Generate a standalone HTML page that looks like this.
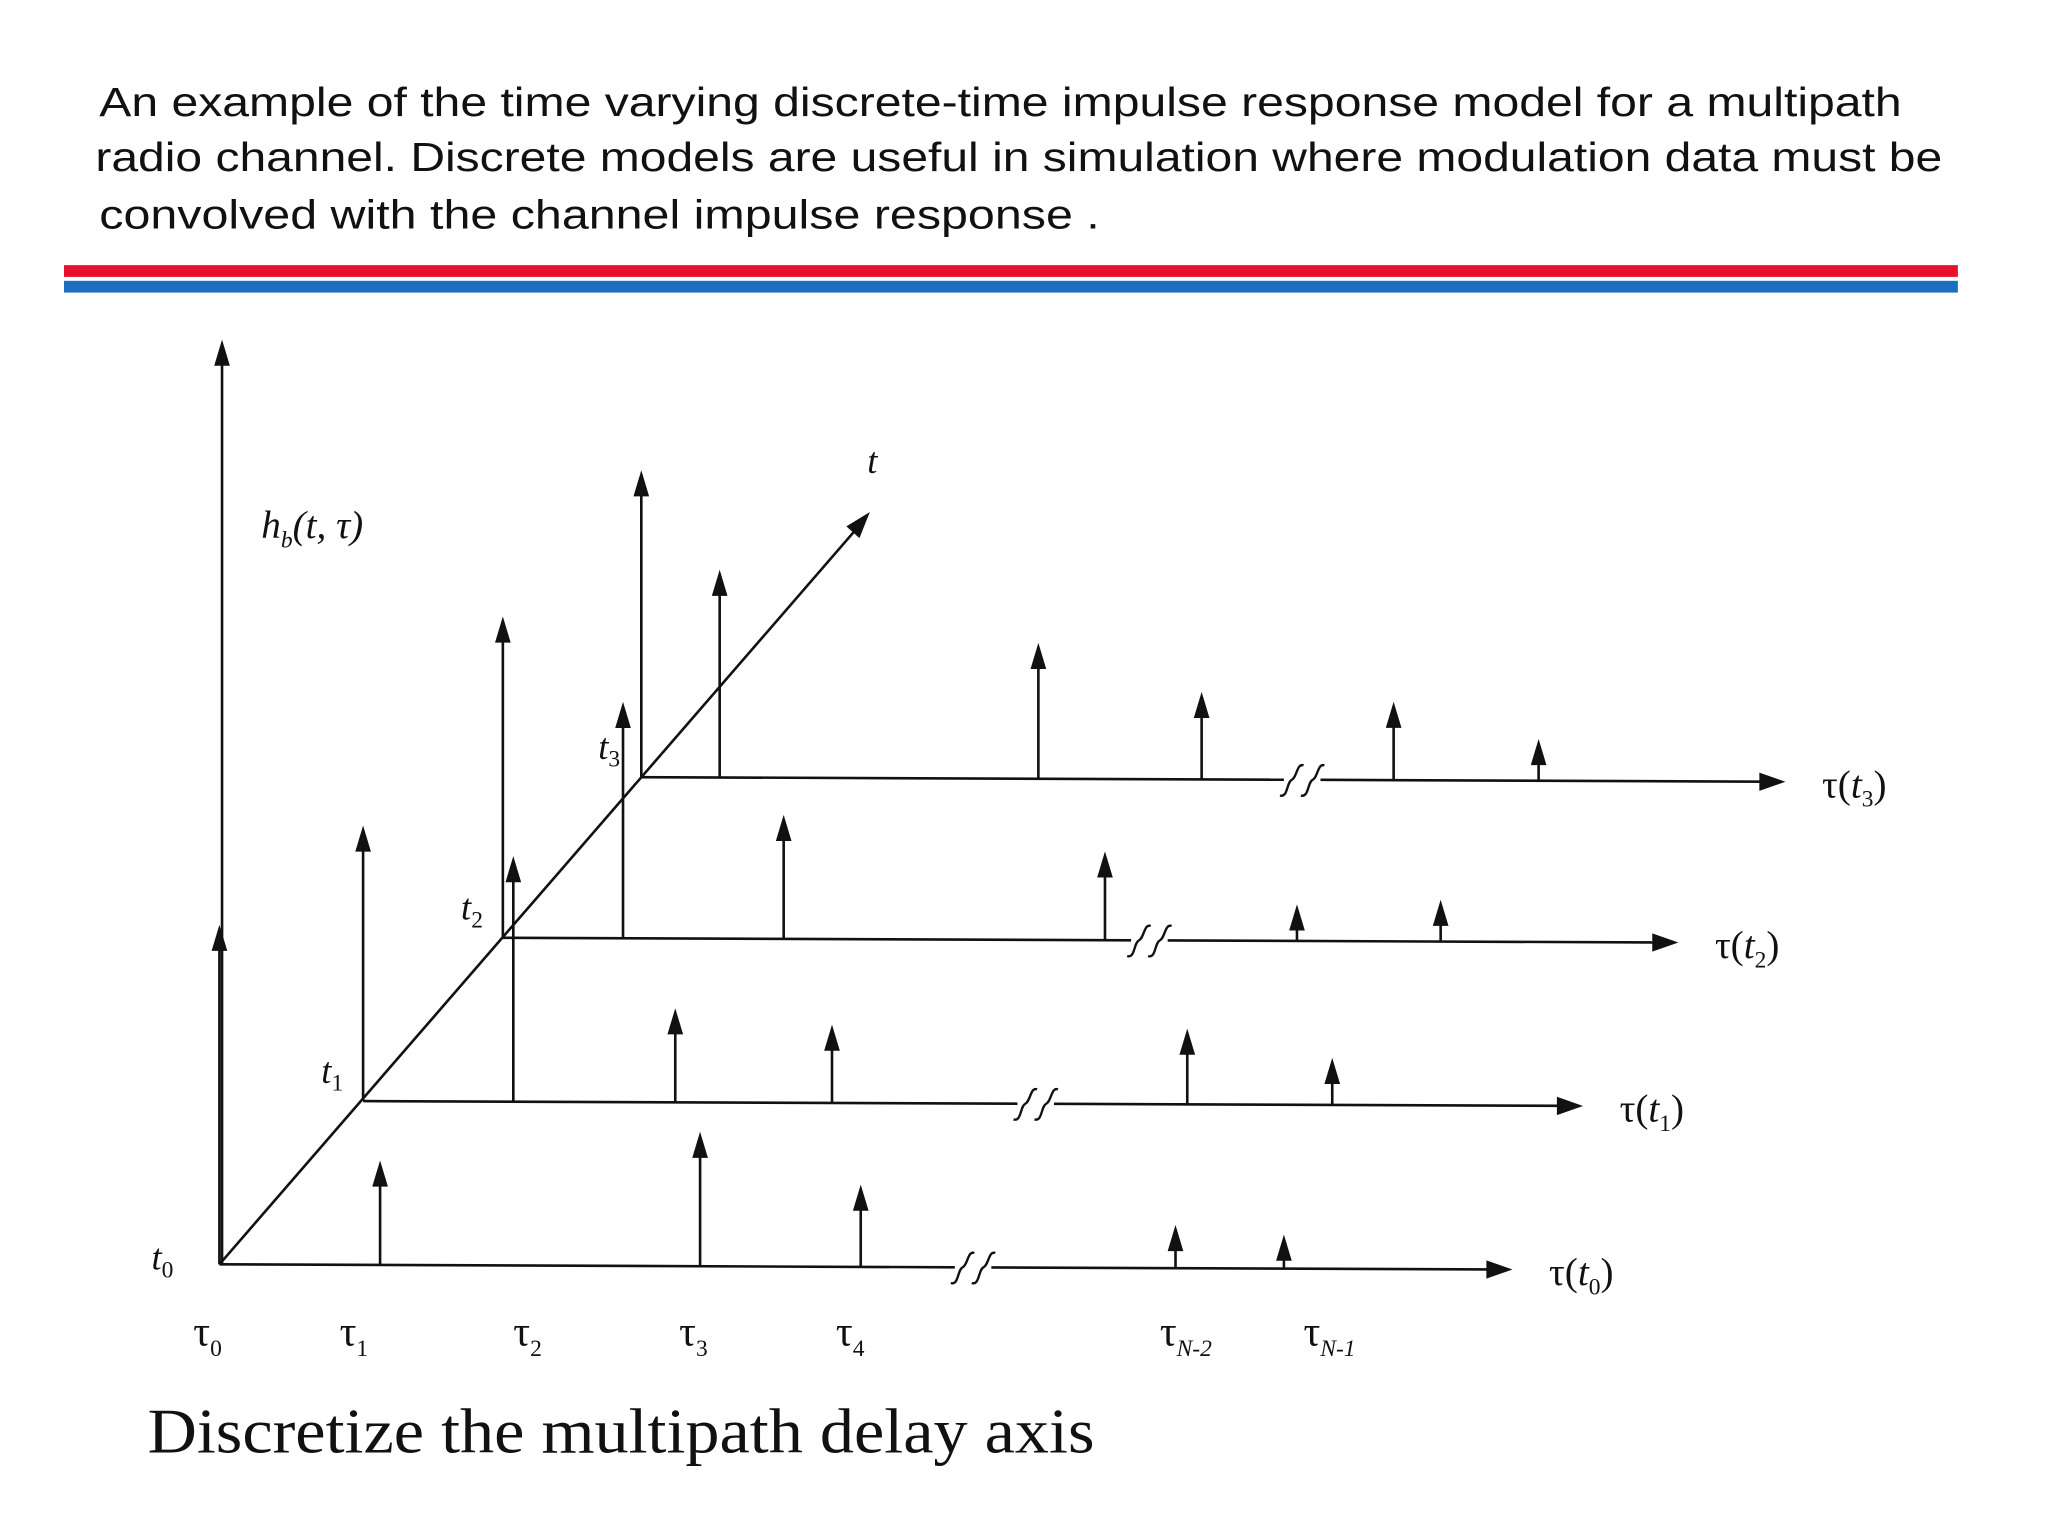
<!DOCTYPE html>
<html><head><meta charset="utf-8"><style>
html,body{margin:0;padding:0;background:#fff;}
svg{display:block;}
.cap{font-family:"Liberation Sans",sans-serif;font-size:31px;fill:#111;}
.lbl{font-family:"Liberation Serif",serif;fill:#111;}
</style></head><body>
<svg id="chart" width="2048" height="1536" viewBox="0 0 1568 1176" preserveAspectRatio="none" xmlns="http://www.w3.org/2000/svg">
<g>
<text class="cap" x="76" y="89" textLength="1380" lengthAdjust="spacingAndGlyphs">An example of the time varying discrete-time impulse response model for a multipath</text>
<text class="cap" x="73" y="131" textLength="1414" lengthAdjust="spacingAndGlyphs">radio channel. Discrete models are useful in simulation where modulation data must be</text>
<text class="cap" x="76" y="175" textLength="766" lengthAdjust="spacingAndGlyphs">convolved with the channel impulse response .</text>
</g>
<rect x="49" y="203" width="1450" height="9" fill="#e8102e"/>
<rect x="49" y="215" width="1450" height="9" fill="#1a6fc0"/>
<g id="plot" stroke="#111" stroke-width="2" fill="none"></g>
<g id="labels"></g>
<text class="lbl" x="113" y="1112" font-size="49" textLength="725" lengthAdjust="spacingAndGlyphs">Discretize the multipath delay axis</text>
</svg>
<script>
// rows t0..t3
const rowNames = ['t0','t1','t2','t3'];
const rowOriginX = [168, 278, 385, 490];
const rowOriginY = [968, 843, 718, 595];
const rowAxisEnd = [1158, 1212, 1285, 1367];
const rowBreakX = [745, 793, 880, 997];
// impulse delays (relative units) and amplitudes per row
const delays = [
  [0, 123, 368, 491, 732, 815],
  [0, 115, 239, 359, 631, 742],
  [0, 92, 215, 461, 608, 718],
  [1, 61, 305, 430, 577, 688]
];
const amps = [
  [260, 80, 103, 63, 33, 26],
  [211, 188, 72, 60, 58, 36],
  [246, 181, 95, 68, 28, 32],
  [235, 159, 104, 67, 60, 32]
];
const tauLabels = ['0','1','2','3','4','N-2','N-1'];
const tauLabelX = [160, 272, 405, 532, 652, 900, 1010];

const NS='http://www.w3.org/2000/svg';
const plot=document.getElementById('plot'), labels=document.getElementById('labels');
function mk(tag,attrs,parent){const e=document.createElementNS(NS,tag);for(const k in attrs)e.setAttribute(k,attrs[k]);parent.appendChild(e);return e;}
const slope=0.004;
function xPos(r,d){return rowOriginX[r]+d;}
function yBase(r,x){return rowOriginY[r]+(x-rowOriginX[r])*slope;}
function yTop(r,x,a){return yBase(r,x)-a;}
function arrowUp(x,y,g){return mk('path',{d:`M${x-6},${y+20} L${x},${y} L${x+6},${y+20} Z`,fill:'#111',stroke:'none'},g);}

let va=mk('g',{},plot);


mk('line',{x1:170,y1:968,x2:170,y2:275},va);
arrowUp(170,260,va);
let ta=mk('g',{},plot);


mk('line',{x1:168,y1:968,x2:660,y2:400},ta);
mk('path',{d:'M666,392 L648,403 L658,412 Z',fill:'#111',stroke:'none'},ta);

rowNames.forEach((n,r)=>{
  const g=mk('g',{},plot);
  
  
  const x0=rowOriginX[r], x1=rowAxisEnd[r], bx=rowBreakX[r];
  mk('line',{x1:x0,y1:yBase(r,x0),x2:bx-14,y2:yBase(r,bx-14)},g);
  mk('line',{x1:bx+14,y1:yBase(r,bx+14),x2:x1-16,y2:yBase(r,x1-16)},g);
  const ye=yBase(r,x1);
  mk('path',{d:`M${x1},${ye} L${x1-20},${ye-7} L${x1-20},${ye+7} Z`,fill:'#111',stroke:'none'},g);
  const yb=yBase(r,bx);
  [-8,8].forEach(o=>{
    const b=mk('path',{d:`M${bx+o-9},${yb+12} C${bx+o-3},${yb+14} ${bx+o-4},${yb+2} ${bx+o},${yb} S${bx+o+4},${yb-13} ${bx+o+9},${yb-11}`,'stroke-width':1.8},g);
    
    
  });
  delays[r].forEach((d,i)=>{
    const x=xPos(r,d), yb2=yBase(r,x), yt=yTop(r,x,amps[r][i]);
    const ig=mk('g',{},g);
    
    
    mk('line',{x1:x,y1:yb2,x2:x,y2:yt+18},ig);
    arrowUp(x,yt,ig);
  });
  const tl=mk('text',{class:'lbl',x:x1+28,y:ye+12,'font-size':30},labels);
  
  
  tl.innerHTML=`τ(<tspan font-style="italic">t</tspan><tspan font-size="18" dy="7">${r}</tspan><tspan dy="-7">)</tspan>`;
  const dl=mk('text',{class:'lbl',x:x0-52+(r===0?0:20),y:rowOriginY[r]-(r===0?-4:14),'font-size':28,'font-style':'italic'},labels);
  
  
  dl.innerHTML=`t<tspan font-size="18" dy="6" font-style="normal">${r}</tspan>`;
});
tauLabels.forEach((s,i)=>{
  const t=mk('text',{class:'lbl',x:tauLabelX[i]-12,y:1030,'font-size':32},labels);
  
  
  t.innerHTML=`τ<tspan font-size="18" dy="8" font-style="${i>4?'italic':'normal'}">${s}</tspan>`;
});
let tlab=mk('text',{class:'lbl',x:664,y:362,'font-size':28,'font-style':'italic'},labels);


tlab.textContent='t';
let hl=mk('text',{class:'lbl',x:200,y:412,'font-size':30,'font-style':'italic'},labels);


hl.innerHTML='h<tspan font-size="18" dy="7">b</tspan><tspan dy="-7">(t, τ)</tspan>';
</script>
</body></html>
